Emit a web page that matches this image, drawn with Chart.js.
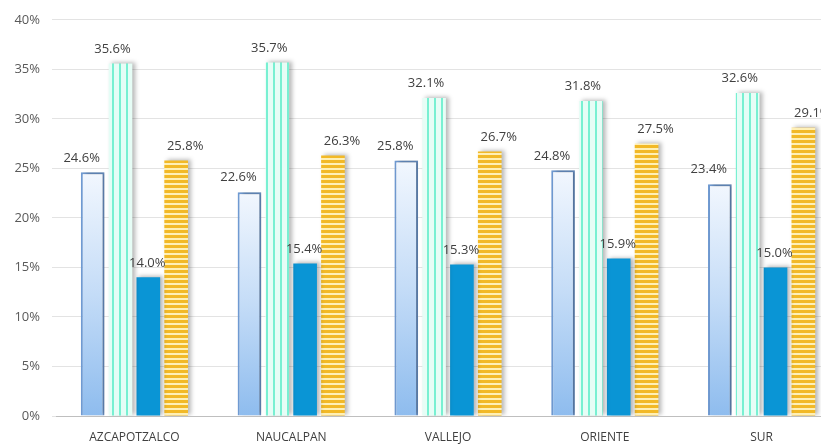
<!DOCTYPE html>
<html>
<head>
<meta charset="utf-8">
<script src="https://cdn.jsdelivr.net/npm/chart.js@4/dist/chart.umd.min.js"></script>
<style>
  html, body { margin: 0; padding: 0; background: #fff; overflow: hidden; }
  #wrap { width: 821px; height: 445px; overflow: hidden; }
  #box { width: 840px; height: 445px; }
</style>
</head>
<body>
<div id="wrap"><div id="box"><canvas id="grafico"></canvas></div></div>
<script>
// datos
const categorias = ['AZCAPOTZALCO', 'NAUCALPAN', 'VALLEJO', 'ORIENTE', 'SUR'];
const serie1 = [24.6, 22.6, 25.8, 24.8, 23.4];
const serie2 = [35.6, 35.7, 32.1, 31.8, 32.6];
const serie3 = [14.0, 15.4, 15.3, 15.9, 15.0];
const serie4 = [25.8, 26.3, 26.7, 27.5, 29.1];
const ticksY = [0, 5, 10, 15, 20, 25, 30, 35, 40];

function patron(w, h, dibujar) {
    const c = document.createElement('canvas');
    c.width = w; c.height = h;
    dibujar(c.getContext('2d'));
    return c.getContext('2d').createPattern(c, 'repeat');
}

const ctxBase = document.getElementById('grafico').getContext('2d');

// rayas verticales verde agua
const rayasVerdes = patron(7, 4, function(g) {
    g.fillStyle = '#e6fdf6';
    g.fillRect(0, 0, 7, 4);
    g.fillStyle = '#78f0d2';
    g.fillRect(0, 0, 2, 4);
});

// rayas horizontales amarillas
const rayasAmarillas = patron(4, 5, function(g) {
    g.fillStyle = '#fff0b5';
    g.fillRect(0, 0, 4, 5);
    g.fillStyle = '#f2b927';
    g.fillRect(0, 0, 4, 3);
});

// degradado para la primera serie
function degradado(context) {
    const chart = context.chart;
    if (!chart.chartArea || !chart.scales.y) return '#a9cbf2';
    const y = chart.scales.y;
    const arriba = y.getPixelForValue(context.raw);
    const abajo = y.getPixelForValue(0);
    const g = chart.ctx.createLinearGradient(0, arriba, 0, abajo);
    g.addColorStop(0, '#f2f7fe');
    g.addColorStop(0.5, '#c4dcf7');
    g.addColorStop(1, '#8ebcee');
    return g;
}

const sombra = {
    id: 'sombra',
    beforeDatasetDraw(chart) {
        const c = chart.ctx;
        c.save();
        c.shadowColor = 'rgba(0,0,0,0.28)';
        c.shadowBlur = 4;
        c.shadowOffsetX = 3;
        c.shadowOffsetY = -1;
    },
    afterDatasetDraw(chart) {
        chart.ctx.restore();
    }
};

// desplazamiento horizontal de las etiquetas por serie
const desplazaEtiqueta = [-11, -8, -1, 9];

const etiquetas = {
    id: 'etiquetas',
    afterDatasetsDraw(chart) {
        const c = chart.ctx;
        c.save();
        c.font = '13px "Open Sans", sans-serif';
        c.fillStyle = '#404040';
        c.textAlign = 'center';
        c.textBaseline = 'bottom';
        chart.data.datasets.forEach(function(ds, i) {
            chart.getDatasetMeta(i).data.forEach(function(bar, j) {
                c.fillText(ds.data[j].toFixed(1) + '%', bar.x + desplazaEtiqueta[i], bar.y - 8);
            });
        });
        c.restore();
    }
};

new Chart(ctxBase, {
    type: 'bar',
    data: {
        labels: categorias,
        datasets: [
            { label: 'Serie 1', data: serie1, backgroundColor: degradado, borderColor: '#6f9ad2', borderWidth: 2 },
            { label: 'Serie 2', data: serie2, backgroundColor: rayasVerdes },
            { label: 'Serie 3', data: serie3, backgroundColor: '#0a95d5' },
            { label: 'Serie 4', data: serie4, backgroundColor: rayasAmarillas }
        ]
    },
    options: {
        responsive: true,
        maintainAspectRatio: false,
        animation: false,
        categoryPercentage: 0.71,
        barPercentage: 0.85,
        layout: { padding: { top: 12, right: 0, left: 0, bottom: 0 } },
        plugins: {
            legend: { display: false },
            tooltip: { enabled: false }
        },
        scales: {
            x: {
                grid: { display: false },
                border: { color: '#bfbfbf', width: 1 },
                ticks: { color: '#404040', font: { family: 'Open Sans', size: 12 }, padding: 6 },
                afterFit(s) { s.height = 29; }
            },
            y: {
                min: 0,
                max: 40,
                afterBuildTicks(s) { s.ticks = ticksY.map(v => ({ value: v })); },
                grid: { color: '#e3e3e3', tickLength: 4, tickColor: '#e3e3e3' },
                border: { display: false },
                ticks: {
                    color: '#595959',
                    font: { family: 'Open Sans', size: 13 },
                    padding: 12,
                    callback: v => v + '%'
                },
                afterFit(s) { s.width = 56; }
            }
        }
    },
    plugins: [sombra, etiquetas]
});
</script>
</body>
</html>
